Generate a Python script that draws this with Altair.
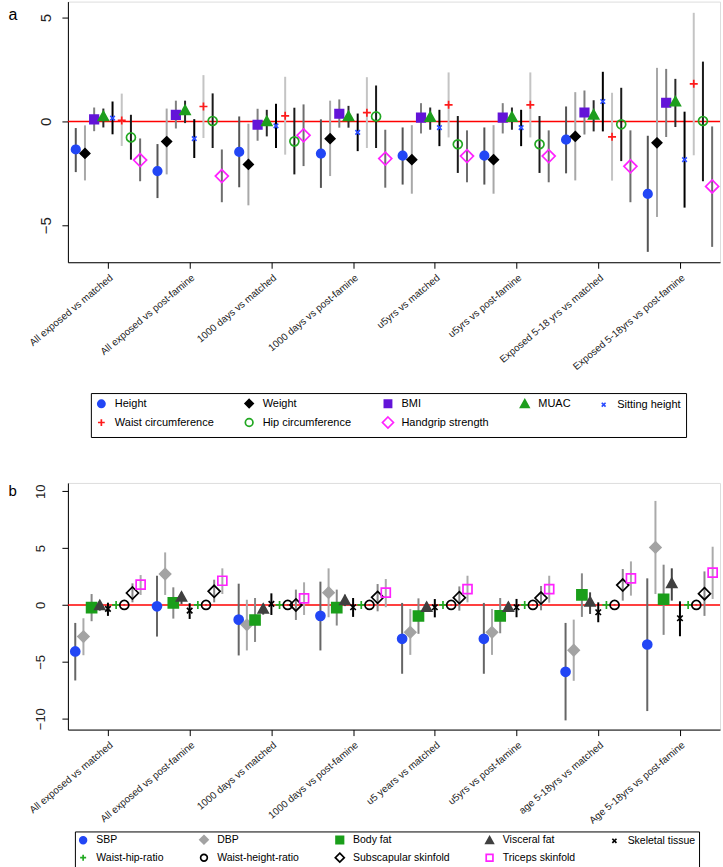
import json
import altair as alt
import pandas as pd

FONT = "Liberation Sans"

# ---------------- Panel a ----------------
comparisons_a = ["All exposed vs matched", "All exposed vs post-famine", "1000 days vs matched",
                 "1000 days vs post-famine", "u5yrs vs matched", "u5yrs vs post-famine",
                 "Exposed 5-18 yrs vs matched", "Exposed 5-18yrs vs post-famine"]
measures_a = ["Height", "Weight", "BMI", "MUAC", "Sitting height",
              "Waist circumference", "Hip circumference", "Handgrip strength"]

height_est = [-1.35, -2.39, -1.47, -1.55, -1.65, -1.65, -0.88, -3.49]
height_lo = [-2.44, -3.69, -3.17, -3.20, -3.04, -3.04, -2.50, -6.28]
height_hi = [-0.32, -1.09, 0.24, 0.10, -0.29, -0.29, 0.72, -0.69]
weight_est = [-1.54, -0.97, -2.07, -0.83, -1.84, -1.84, -0.72, -1.03]
weight_lo = [-2.84, -2.55, -4.04, -2.63, -3.48, -3.48, -2.84, -4.60]
weight_hi = [-0.19, 0.62, -0.11, 1.00, -0.18, -0.18, 1.41, 2.58]
bmi_est = [0.10, 0.32, -0.16, 0.37, 0.18, 0.18, 0.43, 0.90]
bmi_lo = [-0.47, -0.34, -0.93, -0.30, -0.58, -0.58, -0.63, -0.75]
bmi_hi = [0.67, 1.00, 0.61, 1.06, 0.88, 0.88, 1.49, 2.53]
muac_est = [0.24, 0.53, 0.00, 0.24, 0.21, 0.21, 0.32, 0.95]
muac_lo = [-0.29, -0.08, -0.72, -0.30, -0.40, -0.40, -0.48, -0.27]
muac_hi = [0.62, 1.00, 0.56, 0.75, 0.67, 0.67, 1.02, 2.05]
sitting_est = [0.16, -0.83, -0.21, -0.53, -0.30, -0.30, 0.96, -1.84]
sitting_lo = [-0.62, -1.76, -1.28, -1.43, -1.19, -1.19, -0.48, -4.15]
sitting_hi = [0.96, 0.11, 0.85, 0.38, 0.56, 0.56, 2.39, 0.47]
waist_est = [0.05, 0.72, 0.27, 0.42, 0.80, 0.80, -0.74, 1.81]
waist_lo = [-1.18, -0.80, -1.60, -1.28, -0.77, -0.77, -2.85, -1.63]
waist_hi = [1.34, 2.23, 2.15, 2.13, 2.36, 2.36, 1.38, 5.23]
hip_est = [-0.77, 0.02, -0.96, 0.24, -1.10, -1.10, -0.14, 0.02]
hip_lo = [-1.84, -1.28, -2.55, -1.28, -2.48, -2.48, -1.91, -2.88]
hip_hi = [0.32, 1.35, 0.66, 1.73, 0.26, 0.26, 1.62, 2.88]
grip_est = [-1.86, -2.63, -0.67, -1.79, -1.67, -1.67, -2.16, -3.13]
grip_lo = [-2.88, -3.89, -2.15, -3.19, -2.93, -2.93, -3.89, -6.04]
grip_hi = [-0.82, -1.35, 0.82, -0.40, -0.43, -0.43, -0.43, -0.24]

# ---------------- Panel b ----------------
comparisons_b = ["All exposed vs matched", "All exposed vs post-famine", "1000 days vs matched",
                 "1000 days vs post-famine", "u5 years vs matched", "u5yrs  vs post-famine",
                 "age 5-18yrs vs matched", "Age 5-18yrs vs post-famine"]
measures_b = ["SBP", "DBP", "Body fat", "Visceral fat", "Skeletal tissue",
              "Waist-hip-ratio", "Waist-height-ratio", "Subscapular skinfold", "Triceps skinfold"]

sbp_est = [-4.09, -0.12, -1.29, -0.96, -2.98, -2.98, -5.88, -3.48]
sbp_lo = [-6.64, -2.78, -4.44, -4.00, -6.05, -6.05, -10.15, -9.33]
sbp_hi = [-1.58, 2.57, 1.87, 2.05, 0.18, 0.18, -1.58, 2.34]
dbp_est = [-2.78, 2.72, -1.75, 1.08, -2.40, -2.40, -3.98, 5.06]
dbp_lo = [-4.42, 0.88, -4.00, -1.08, -4.39, -4.39, -6.67, 0.96]
dbp_hi = [-1.17, 4.62, 0.46, 3.22, -0.35, -0.35, -1.29, 9.15]
bodyfat_est = [-0.23, 0.18, -1.32, -0.23, -0.97, -0.96, 0.88, 0.50]
bodyfat_lo = [-1.43, -1.20, -3.25, -1.81, -2.54, -2.49, -1.05, -2.63]
bodyfat_hi = [0.96, 1.55, 0.61, 1.35, 0.58, 0.61, 2.78, 3.54]
visceral_est = [-0.05, 0.70, -0.35, 0.40, -0.20, -0.20, 0.26, 1.90]
visceral_lo = [-0.50, 0.09, -0.85, -0.10, -0.60, -0.60, -0.79, 0.38]
visceral_hi = [0.32, 1.10, 0.10, 0.90, 0.20, 0.20, 1.11, 3.22]
skeletal_est = [-0.35, -0.50, 0.09, -0.20, -0.20, -0.20, -0.64, -1.17]
skeletal_lo = [-0.96, -1.23, -0.88, -1.05, -1.09, -1.08, -1.52, -2.75]
skeletal_hi = [0.20, 0.15, 1.02, 0.61, 0.52, 0.53, 0.23, 0.32]
whr_est = [0.00, 0.00, 0.00, 0.00, 0.00, 0.00, 0.00, 0.00]
whr_lo = [-0.03, -0.03, -0.03, -0.03, -0.03, -0.03, -0.03, -0.03]
whr_hi = [0.03, 0.03, 0.03, 0.03, 0.03, 0.03, 0.03, 0.03]
whtr_est = [0.00, 0.00, 0.00, 0.00, 0.00, 0.00, 0.00, 0.00]
whtr_lo = [-0.02, -0.02, -0.02, -0.02, -0.02, -0.02, -0.02, -0.02]
whtr_hi = [0.02, 0.02, 0.02, 0.02, 0.02, 0.02, 0.02, 0.02]
subscap_est = [1.05, 1.20, 0.00, 0.67, 0.64, 0.61, 1.75, 0.99]
subscap_lo = [0.23, 0.23, -1.32, -0.56, -0.50, -0.47, 0.38, -0.96]
subscap_hi = [1.90, 2.22, 1.35, 1.84, 1.63, 1.67, 3.16, 2.95]
triceps_est = [1.78, 2.13, 0.58, 1.08, 1.40, 1.40, 2.34, 2.84]
triceps_lo = [0.88, 0.96, -0.88, -0.20, 0.23, 0.20, 0.82, 0.53]
triceps_hi = [2.63, 3.22, 1.99, 2.28, 2.57, 2.57, 3.83, 5.12]


# ---------------- marker styles (SVG paths, unit = 5 px at size 100) ----------------
def circ(r):
    return f"M{-r},0A{r},{r},0,1,1,{r},0A{r},{r},0,1,1,{-r},0Z"


def diam(h):
    return f"M0,{-h}L{h},0L0,{h}L{-h},0Z"


def sq(h):
    return f"M{-h},{-h}L{h},{-h}L{h},{h}L{-h},{h}Z"


def tri(h):
    return f"M0,{-h}L{h},{0.8 * h}L{-h},{0.8 * h}Z"


def xmark(h):
    return f"M{-h},{-h}L{h},{h}M{-h},{h}L{h},{-h}"


def plus(h):
    return f"M{-h},0L{h},0M0,{-h}L0,{h}"


shapes_a = [circ(0.85), diam(0.95), sq(0.85), tri(1.0), xmark(0.45), plus(0.8), circ(0.9), diam(1.3)]
fills_a = ["#2246f5", "#000000", "#6314d8", "#1e9e1e", "transparent", "transparent", "transparent", "transparent"]
strokes_a = ["#2246f5", "#000000", "#6314d8", "#1e9e1e", "#2a4cff", "#ff1a1a", "#22a822", "#ff22ff"]
ci_a = ["#555555", "#a8a8a8", "#808080", "#2a2a2a", "#000000", "#c4c4c4", "#1a1a1a", "#6e6e6e"]

shapes_b = [circ(0.9), diam(1.1), sq(1.0), tri(1.0), xmark(0.55), plus(0.8), circ(0.9), diam(1.2), sq(0.9)]
fills_b = ["#2246f5", "#a3a3a3", "#1a9e1a", "#404040", "transparent", "transparent", "transparent",
           "transparent", "transparent"]
strokes_b = ["#2246f5", "#a3a3a3", "#1a9e1a", "#404040", "#000000", "#22aa22", "#000000", "#000000", "#ff22ff"]
ci_b = ["#666666", "#aaaaaa", "#888888", "#444444", "#000000", "#22aa22", "#000000", "#888888", "#aaaaaa"]


def build_frame(comparisons, measures, est, lo, hi):
    rows = []
    for j, m in enumerate(measures):
        for i, c in enumerate(comparisons):
            rows.append({"comparison": c, "group": i, "measure": m, "order": j,
                         "est": est[j][i], "lo": lo[j][i], "hi": hi[j][i]})
    return pd.DataFrame(rows)


def panel(df, comparisons, measures, step, ydomain, yvalues, ylabsize, ylabpad, letter, lettery,
          lettersize, shapes, fills, strokes, cis, height, leg):
    n = len(measures)
    base = alt.Chart(df).transform_calculate(
        xpos=f"datum.group + (datum.order - {(n - 1) / 2}) * {step}")
    label_expr = "[" + ",".join(json.dumps(c) for c in comparisons) + "][datum.value]"
    xaxis = alt.Axis(values=list(range(len(comparisons))), labelExpr=label_expr, labelAngle=-40,
                     labelAlign="right", labelBaseline="top", labelFontSize=10, labelFont=FONT,
                     labelColor="#222222", tickSize=6, labelPadding=4, domainColor="black",
                     tickColor="black", title=None, grid=False, labelOverlap=False, labelFlush=False,
                     labelBound=False)
    yaxis = alt.Axis(values=yvalues, labelAngle=-90, labelAlign="center", labelBaseline="bottom",
                     labelFontSize=ylabsize, labelFont=FONT, labelColor="#222222", tickSize=6,
                     labelPadding=ylabpad, domainColor="black", tickColor="black", grid=False,
                     title=letter, titleAngle=0, titleX=-60, titleY=lettery, titleAlign="left",
                     titleBaseline="alphabetic", titleFontSize=lettersize, titleFontWeight="normal",
                     titleFont=FONT, titleColor="black")
    xenc = alt.X("xpos:Q", scale=alt.Scale(domain=[-0.49, 7.49], nice=False, zero=False), axis=xaxis)
    yscale = alt.Scale(domain=ydomain, nice=False, zero=False)

    zero = alt.Chart(df).mark_rule(color="#ff0000", strokeWidth=1.6).encode(
        y=alt.Y("zero:Q", scale=yscale, axis=yaxis)
    ).transform_calculate(zero="0").transform_aggregate(zero="min(zero)")

    ci = base.mark_rule(strokeWidth=2).encode(
        x=xenc,
        y=alt.Y("lo:Q", scale=yscale, axis=yaxis),
        y2="hi:Q",
        color=alt.Color("measure:N", scale=alt.Scale(domain=measures, range=cis), legend=None),
    )
    pts = base.mark_point(opacity=1, strokeWidth=1.7, size=100).encode(
        x=xenc,
        y=alt.Y("est:Q", scale=yscale, axis=yaxis),
        shape=alt.Shape("measure:N", scale=alt.Scale(domain=measures, range=shapes), legend=leg),
        fill=alt.Fill("measure:N", scale=alt.Scale(domain=measures, range=fills), legend=leg),
        stroke=alt.Stroke("measure:N", scale=alt.Scale(domain=measures, range=strokes), legend=leg),
    )
    return alt.layer(zero, ci, pts).resolve_scale(color="independent").properties(
        width=653, height=height)


leg_a = alt.Legend(title=None, orient="none", legendX=23, legendY=392, columns=5, columnPadding=27,
                   rowPadding=2, padding=5, strokeColor="black", labelFont=FONT, labelFontSize=11,
                   labelColor="black", symbolOpacity=1, labelLimit=300, symbolStrokeWidth=1.7,
                   symbolSize=72, fillColor="white", labelOffset=8, direction="horizontal")
leg_b = alt.Legend(title=None, orient="none", legendX=7, legendY=349, columns=5, columnPadding=32,
                   rowPadding=2, padding=3, strokeColor="black", labelFont=FONT, labelFontSize=10.5,
                   labelColor="black", symbolOpacity=1, labelLimit=300, symbolStrokeWidth=1.7,
                   symbolSize=56, fillColor="white", labelOffset=8, direction="horizontal")

df_a = build_frame(comparisons_a, measures_a,
                   [height_est, weight_est, bmi_est, muac_est, sitting_est, waist_est, hip_est, grip_est],
                   [height_lo, weight_lo, bmi_lo, muac_lo, sitting_lo, waist_lo, hip_lo, grip_lo],
                   [height_hi, weight_hi, bmi_hi, muac_hi, sitting_hi, waist_hi, hip_hi, grip_hi])
df_b = build_frame(comparisons_b, measures_b,
                   [sbp_est, dbp_est, bodyfat_est, visceral_est, skeletal_est, whr_est, whtr_est,
                    subscap_est, triceps_est],
                   [sbp_lo, dbp_lo, bodyfat_lo, visceral_lo, skeletal_lo, whr_lo, whtr_lo,
                    subscap_lo, triceps_lo],
                   [sbp_hi, dbp_hi, bodyfat_hi, visceral_hi, skeletal_hi, whr_hi, whtr_hi,
                    subscap_hi, triceps_hi])

pa = panel(df_a, comparisons_a, measures_a, 0.1125, [-6.78, 5.77], [-5, 0, 5], 15, 8, "a", 18, 16,
           shapes_a, fills_a, strokes_a, ci_a, 261, leg_a)
pb = panel(df_b, comparisons_b, measures_b, 0.1, [-10.96, 10.73], [-10, -5, 0, 5, 10], 13, 14, "b", 13, 15,
           shapes_b, fills_b, strokes_b, ci_b, 247, leg_b)

chart = alt.vconcat(pa, pb, spacing=44).resolve_scale(
    x="independent", y="independent", color="independent", fill="independent",
    stroke="independent", shape="independent"
).properties(
    padding={"left": 7, "top": 0, "right": 0, "bottom": 0}, background="white"
).configure_view(stroke=None).configure(font=FONT)

chart.save("out.html", embed_options={"renderer": "svg", "actions": False})
